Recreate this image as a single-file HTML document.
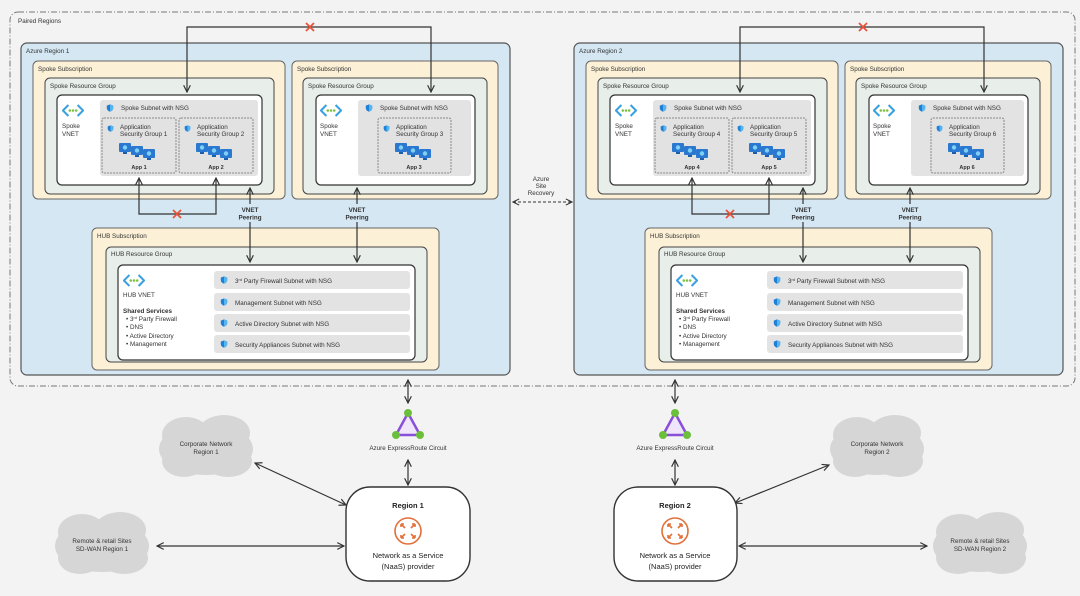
<!DOCTYPE html>
<html><head><meta charset="utf-8"><style>
html,body{margin:0;padding:0;background:#f3f3f3;}
svg{display:block;font-family:"Liberation Sans",sans-serif;}
.s{font-size:6.3px;fill:#333;}
.b{font-weight:bold;}
</style></head><body>
<svg width="1080" height="596" viewBox="0 0 1080 596" xmlns="http://www.w3.org/2000/svg">
<defs>
<marker id="ah" viewBox="0 0 10 10" refX="9" refY="5" markerWidth="7" markerHeight="7" orient="auto-start-reverse"><path d="M1 1 L9 5 L1 9" fill="none" stroke="#333" stroke-width="1.4"/></marker>
<symbol id="vnet" viewBox="0 0 24 14"><path d="M7 1 L1 7 L7 13" fill="none" stroke="#3aa0e0" stroke-width="2.2"/><path d="M17 1 L23 7 L17 13" fill="none" stroke="#3aa0e0" stroke-width="2.2"/><circle cx="8.5" cy="7" r="1.4" fill="#7cc242"/><circle cx="12" cy="7" r="1.4" fill="#7cc242"/><circle cx="15.5" cy="7" r="1.4" fill="#7cc242"/></symbol>
<symbol id="shield" viewBox="0 0 10 10"><path d="M5 0.5 L9 2 V5 C9 7.5 7 9 5 9.6 C3 9 1 7.5 1 5 V2 Z" fill="#1f7fd6"/><path d="M5 0.5 L9 2 V5 C9 7.5 7 9 5 9.6 Z" fill="#56b4ee"/></symbol>
<symbol id="apps" viewBox="0 0 40 18"><g fill="#2b78d0"><rect x="0" y="0" width="12" height="9" rx="1"/><rect x="12" y="3" width="12" height="9" rx="1"/><rect x="24" y="6" width="12" height="9" rx="1"/></g><g fill="#7fd0f5"><circle cx="6" cy="4.5" r="2.2"/><circle cx="18" cy="7.5" r="2.2"/><circle cx="30" cy="10.5" r="2.2"/></g><g fill="#1d5fa8"><rect x="4" y="9" width="4" height="2"/><rect x="16" y="12" width="4" height="2"/><rect x="28" y="15" width="4" height="2"/></g></symbol>
<symbol id="x" viewBox="0 0 10 10"><path d="M1 1 L9 9 M9 1 L1 9" stroke="#e8533b" stroke-width="1.8"/></symbol>
<g id="region">
 <rect x="21" y="43" width="489" height="332" rx="6" fill="#d5e7f3" stroke="#555" stroke-width="1.2"/>
 <rect x="33" y="61" width="252" height="138" rx="5" fill="#fcf1d7" stroke="#666" stroke-width="1"/>
 <rect x="45" y="78" width="229" height="116" rx="5" fill="#e8eee9" stroke="#444" stroke-width="1"/>
 <rect x="57" y="95" width="205" height="90" rx="5" fill="#fff" stroke="#333" stroke-width="1.2"/>
 <rect x="100" y="100" width="158" height="76" rx="3" fill="#e3e3e3"/>
 <rect x="102" y="118" width="74" height="55" rx="2" fill="#e2e2e2" stroke="#888" stroke-dasharray="2 1"/>
 <rect x="179" y="118" width="74" height="55" rx="2" fill="#e2e2e2" stroke="#888" stroke-dasharray="2 1"/>
 <use href="#vnet" x="62" y="104" width="22" height="13"/>
 <use href="#shield" x="106" y="104" width="8" height="8"/>
 <use href="#shield" x="107" y="125" width="7" height="7"/>
 <use href="#shield" x="184" y="125" width="7" height="7"/>
 <use href="#apps" x="119" y="143" width="40" height="18"/>
 <use href="#apps" x="196" y="143" width="40" height="18"/>
 <rect x="292" y="61" width="206" height="138" rx="5" fill="#fcf1d7" stroke="#666" stroke-width="1"/>
 <rect x="303" y="78" width="184" height="116" rx="5" fill="#e8eee9" stroke="#444" stroke-width="1"/>
 <rect x="316" y="95" width="159" height="90" rx="5" fill="#fff" stroke="#333" stroke-width="1.2"/>
 <rect x="358" y="100" width="113" height="76" rx="3" fill="#e3e3e3"/>
 <rect x="378" y="118" width="73" height="55" rx="2" fill="#e2e2e2" stroke="#888" stroke-dasharray="2 1"/>
 <use href="#vnet" x="320" y="104" width="22" height="13"/>
 <use href="#shield" x="365" y="104" width="8" height="8"/>
 <use href="#shield" x="383" y="125" width="7" height="7"/>
 <use href="#apps" x="395" y="143" width="40" height="18"/>
 <rect x="92" y="228" width="347" height="142" rx="5" fill="#fcf1d7" stroke="#666" stroke-width="1"/>
 <rect x="106" y="247" width="321" height="115" rx="5" fill="#e8eee9" stroke="#444" stroke-width="1"/>
 <rect x="118" y="265" width="297" height="95" rx="5" fill="#fff" stroke="#333" stroke-width="1.2"/>
 <rect x="214" y="271" width="196" height="18" rx="3" fill="#e3e3e3"/>
 <rect x="214" y="293" width="196" height="18" rx="3" fill="#e3e3e3"/>
 <rect x="214" y="314" width="196" height="18" rx="3" fill="#e3e3e3"/>
 <rect x="214" y="335" width="196" height="18" rx="3" fill="#e3e3e3"/>
 <use href="#vnet" x="123" y="274" width="22" height="13"/>
 <use href="#shield" x="220" y="276" width="8" height="8"/>
 <use href="#shield" x="220" y="298" width="8" height="8"/>
 <use href="#shield" x="220" y="319" width="8" height="8"/>
 <use href="#shield" x="220" y="340" width="8" height="8"/>
 <path d="M187 92 V27 H431 V92" fill="none" stroke="#333" stroke-width="1.2" marker-start="url(#ah)" marker-end="url(#ah)"/>
 <use href="#x" x="305" y="22" width="10" height="10"/>
 <path d="M139 178 V214 H216 V178" fill="none" stroke="#333" stroke-width="1.2" marker-start="url(#ah)" marker-end="url(#ah)"/>
 <use href="#x" x="172" y="209" width="10" height="10"/>
 <line x1="250" y1="188" x2="250" y2="204" stroke="#333" stroke-width="1.2" marker-start="url(#ah)"/>
 <line x1="250" y1="222" x2="250" y2="262" stroke="#333" stroke-width="1.2" marker-end="url(#ah)"/>
 <line x1="357" y1="188" x2="357" y2="204" stroke="#333" stroke-width="1.2" marker-start="url(#ah)"/>
 <line x1="357" y1="222" x2="357" y2="262" stroke="#333" stroke-width="1.2" marker-end="url(#ah)"/>
 <g class="s b" text-anchor="middle"><text x="250" y="212">VNET</text><text x="250" y="219.5">Peering</text><text x="357" y="212">VNET</text><text x="357" y="219.5">Peering</text></g>
 <g class="s"><text x="38" y="71">Spoke Subscription</text><text x="50" y="88">Spoke Resource Group</text>
 <text x="297" y="71">Spoke Subscription</text><text x="308" y="88">Spoke Resource Group</text>
 <text x="62" y="128">Spoke</text><text x="62" y="136">VNET</text>
 <text x="320" y="128">Spoke</text><text x="320" y="136">VNET</text>
 <text x="121" y="110">Spoke Subnet with NSG</text><text x="380" y="110">Spoke Subnet with NSG</text>
 <text x="97" y="238">HUB Subscription</text><text x="111" y="256">HUB Resource Group</text>
 <text x="123" y="297">HUB VNET</text>
 <text x="123" y="313" class="b">Shared Services</text>
 <text x="126" y="321">• 3<tspan font-size="4" dy="-2">rd</tspan><tspan dy="2"> Party Firewall</tspan></text>
 <text x="126" y="329">• DNS</text><text x="126" y="338">• Active Directory</text><text x="126" y="346">• Management</text>
 <text x="235" y="283">3<tspan font-size="4" dy="-2">rd</tspan><tspan dy="2"> Party Firewall Subnet with NSG</tspan></text>
 <text x="235" y="305">Management Subnet with NSG</text>
 <text x="235" y="326">Active Directory Subnet with NSG</text>
 <text x="235" y="347">Security Appliances Subnet with NSG</text>
 </g>
</g>
<g id="cloud" fill="#d6d6d6">
 <ellipse cx="0" cy="2" rx="47" ry="26"/><ellipse cx="-20" cy="-12" rx="24" ry="18"/><ellipse cx="18" cy="-14" rx="26" ry="18"/><ellipse cx="-22" cy="14" rx="22" ry="16"/><ellipse cx="22" cy="14" rx="24" ry="16"/>
</g>
</defs>

<rect x="10" y="12" width="1065" height="374" rx="8" fill="none" stroke="#777" stroke-width="1" stroke-dasharray="6 2 1 2"/>
<text x="18" y="23" class="s">Paired Regions</text>

<use href="#region"/>
<use href="#region" x="553"/>

<g class="s">
<text x="26" y="53">Azure Region 1</text><text x="579" y="53">Azure Region 2</text>
<text x="120" y="129">Application</text><text x="120" y="136">Security Group 1</text>
<text x="197" y="129">Application</text><text x="197" y="136">Security Group 2</text>
<text x="396" y="129">Application</text><text x="396" y="136">Security Group 3</text>
<text x="673" y="129">Application</text><text x="673" y="136">Security Group 4</text>
<text x="750" y="129">Application</text><text x="750" y="136">Security Group 5</text>
<text x="949" y="129">Application</text><text x="949" y="136">Security Group 6</text>
<g class="b" text-anchor="middle" font-size="5.5">
<text x="139" y="169">App 1</text><text x="216" y="169">App 2</text><text x="414" y="169">App 3</text>
<text x="692" y="169">App 4</text><text x="769" y="169">App 5</text><text x="967" y="169">App 6</text>
</g>
<g text-anchor="middle"><text x="541" y="181">Azure</text><text x="541" y="188">Site</text><text x="541" y="195">Recovery</text></g>
</g>
<line x1="513" y1="202" x2="572" y2="202" stroke="#333" stroke-width="1.1" stroke-dasharray="3 2" marker-start="url(#ah)" marker-end="url(#ah)"/>

<use href="#cloud" x="206" y="447"/>
<use href="#cloud" x="102" y="544"/>
<use href="#cloud" x="877" y="447"/>
<use href="#cloud" x="980" y="544"/>
<g class="s" text-anchor="middle" fill="#555">
<text x="206" y="446">Corporate Network</text><text x="206" y="454">Region 1</text>
<text x="102" y="543">Remote &amp; retail Sites</text><text x="102" y="551">SD-WAN Region 1</text>
<text x="877" y="446">Corporate Network</text><text x="877" y="454">Region 2</text>
<text x="980" y="543">Remote &amp; retail Sites</text><text x="980" y="551">SD-WAN Region 2</text>
</g>

<g stroke="#333" stroke-width="1.2" fill="none">
<line x1="408" y1="380" x2="408" y2="403" marker-start="url(#ah)" marker-end="url(#ah)"/>
<line x1="408" y1="460" x2="408" y2="485" marker-start="url(#ah)" marker-end="url(#ah)"/>
<line x1="255" y1="463" x2="346" y2="505" marker-start="url(#ah)" marker-end="url(#ah)"/>
<line x1="157" y1="546" x2="344" y2="546" marker-start="url(#ah)" marker-end="url(#ah)"/>
<line x1="675" y1="380" x2="675" y2="403" marker-start="url(#ah)" marker-end="url(#ah)"/>
<line x1="675" y1="460" x2="675" y2="485" marker-start="url(#ah)" marker-end="url(#ah)"/>
<line x1="735" y1="503" x2="829" y2="465" marker-start="url(#ah)" marker-end="url(#ah)"/>
<line x1="739" y1="546" x2="927" y2="546" marker-start="url(#ah)" marker-end="url(#ah)"/>
</g>

<g>
<path d="M408 413 L396 435 L420 435 Z" fill="#efe6fb" stroke="#8a4fd8" stroke-width="2.5"/>
<circle cx="408" cy="413" r="4" fill="#6cbf3a"/><circle cx="396" cy="435" r="4" fill="#6cbf3a"/><circle cx="420" cy="435" r="4" fill="#6cbf3a"/>
<path d="M675 413 L663 435 L687 435 Z" fill="#efe6fb" stroke="#8a4fd8" stroke-width="2.5"/>
<circle cx="675" cy="413" r="4" fill="#6cbf3a"/><circle cx="663" cy="435" r="4" fill="#6cbf3a"/><circle cx="687" cy="435" r="4" fill="#6cbf3a"/>
</g>
<g class="s" text-anchor="middle"><text x="408" y="450">Azure ExpressRoute Circuit</text><text x="675" y="450">Azure ExpressRoute Circuit</text></g>

<rect x="346" y="487" width="124" height="94" rx="24" fill="#fff" stroke="#333" stroke-width="1.4"/>
<rect x="614" y="487" width="123" height="94" rx="24" fill="#fff" stroke="#333" stroke-width="1.4"/>
<g fill="none" stroke="#e2703a" stroke-width="1.6">
<circle cx="408" cy="531" r="13"/><path d="M401 524 L405 528 M415 524 L411 528 M401 538 L405 534 M415 538 L411 534 M401 524 h3 M401 524 v3 M415 524 h-3 M415 524 v3 M401 538 h3 M401 538 v-3 M415 538 h-3 M415 538 v-3"/>
<circle cx="675" cy="531" r="13"/><path d="M668 524 L672 528 M682 524 L678 528 M668 538 L672 534 M682 538 L678 534 M668 524 h3 M668 524 v3 M682 524 h-3 M682 524 v3 M668 538 h3 M668 538 v-3 M682 538 h-3 M682 538 v-3"/>
</g>
<g text-anchor="middle" font-size="7.5" fill="#222">
<text x="408" y="508" font-weight="bold">Region 1</text>
<text x="408" y="558">Network as a Service</text><text x="408" y="569">(NaaS) provider</text>
<text x="675" y="508" font-weight="bold">Region 2</text>
<text x="675" y="558">Network as a Service</text><text x="675" y="569">(NaaS) provider</text>
</g>
</svg>
</body></html>
